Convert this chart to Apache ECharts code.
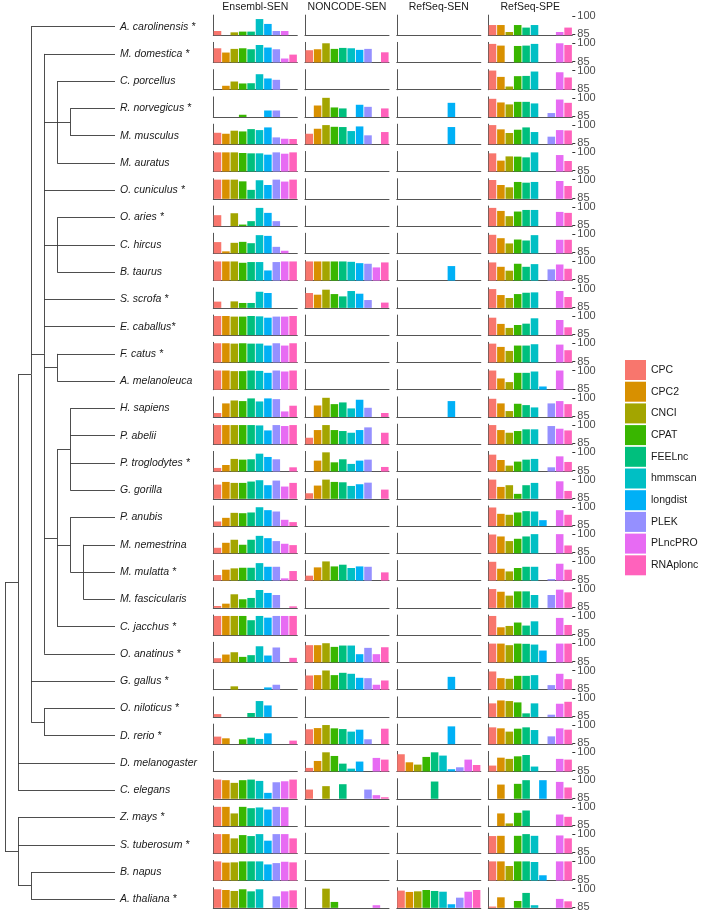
<!DOCTYPE html>
<html><head><meta charset="utf-8">
<script src="https://cdn.jsdelivr.net/npm/echarts@6/dist/echarts.min.js"></script>
<style>html,body{margin:0;padding:0;background:#fff}#c{width:702px;height:913px}</style>
</head><body><div id="c"></div>
<script>
const _ = null;
const tools = ['CPC','CPC2','CNCI','CPAT','FEELnc','hmmscan','longdist','PLEK','PLncPRO','RNAplonc'];
const toolColors = ['#F8766D','#D89000','#A3A500','#39B600','#00BF7D','#00BFC4','#00B0F6','#9590FF','#E76BF3','#FF62BC'];
const databases = ['Ensembl-SEN','NONCODE-SEN','RefSeq-SEN','RefSeq-SPE'];
const species = ['A. carolinensis *','M. domestica *','C. porcellus','R. norvegicus *','M. musculus','M. auratus',
  'O. cuniculus *','O. aries *','C. hircus','B. taurus','S. scrofa *','E. caballus*','F. catus *','A. melanoleuca',
  'H. sapiens','P. abelii','P. troglodytes *','G. gorilla','P. anubis','M. nemestrina','M. mulatta *','M. fascicularis',
  'C. jacchus *','O. anatinus *','G. gallus *','O. niloticus *','D. rerio *','D. melanogaster','C. elegans',
  'Z. mays *','S. tuberosum *','B. napus','A. thaliana *'];
const yTicks = [85, 100];

// tree topology (nested clades)
const tree = [
  [
    ['A. carolinensis *',
      ['M. domestica *',
        ['C. porcellus', ['R. norvegicus *','M. musculus'], 'M. auratus'],
        'O. cuniculus *',
        ['O. aries *','C. hircus','B. taurus'],
        'S. scrofa *','E. caballus*',
        ['F. catus *','A. melanoleuca'],
        [['H. sapiens','P. abelii','P. troglodytes *','G. gorilla'],
         ['P. anubis', ['M. nemestrina','M. mulatta *','M. fascicularis']],
         'C. jacchus *'],
        'O. anatinus *'],
      'G. gallus *',
      ['O. niloticus *','D. rerio *']],
    'D. melanogaster','C. elegans'],
  ['Z. mays *','S. tuberosum *',['B. napus','A. thaliana *']]
];

const ensemblSEN = [
  [87.7,_,86.6,87.2,87.2,97.5,93.5,87.7,87.7,_],
  [95.9,92.4,95.4,95.9,95.1,98.6,96.5,95.1,87.5,90.7],
  [_,87.5,91.0,89.4,89.6,97.0,93.5,92.4,_,_],
  [_,_,_,86.1,_,_,89.6,89.6,_,_],
  [93.7,92.9,95.4,94.8,96.7,95.9,98.1,89.9,88.8,88.6],
  [100,100,100,99.5,99.2,99.2,98.1,100,98.9,100],
  [100,100,100,98.6,91.6,99.5,95.6,100,98.4,100],
  [93.2,_,94.8,85.5,88.3,99.2,95.1,88.3,_,_],
  [93.5,85.9,92.9,93.7,92.6,99.2,98.6,89.6,86.4,_],
  [100,100,100,98.9,99.5,99.5,92.6,99.5,100,100],
  [89.4,_,89.6,88.3,88.3,97.5,96.5,_,_,_],
  [100,100,99.5,99.5,100,99.7,98.6,99.5,99.5,100],
  [100,100,99.7,100,99.7,99.7,98.1,100,98.1,100],
  [100,100,99.5,99.5,100,99.7,98.1,100,99.2,100],
  [87.5,95.4,97.8,97.3,99.5,97.0,99.5,98.9,88.8,93.5],
  [100,100,100,100,100,99.7,95.6,100,99.2,100],
  [87.2,89.6,94.6,94.0,94.3,98.9,96.2,94.3,_,87.7],
  [95.9,98.1,97.3,97.3,98.4,99.5,95.4,99.2,94.3,97.3],
  [88.0,91.0,95.1,94.8,95.4,99.7,97.3,96.2,89.4,87.5],
  [88.8,92.9,95.4,91.3,95.4,98.6,96.7,94.3,92.1,91.0],
  [88.8,93.2,94.3,94.8,94.8,98.6,95.6,95.6,86.1,92.1],
  [85.8,87.7,95.4,91.3,92.4,98.9,96.5,94.8,_,85.5],
  [100,100,100,100,96.5,100,98.6,100,100,100],
  [87.7,90.7,92.6,88.8,90.2,97.5,89.9,96.5,_,88.0],
  [_,_,87.0,_,_,_,86.1,88.3,_,_],
  [86.6,_,_,_,87.5,97.3,93.7,_,_,_],
  [90.5,89.1,_,88.3,89.6,88.6,93.2,_,_,87.2],
  [_,_,_,_,_,_,_,_,_,_],
  [100,99.5,97.3,99.5,100,98.9,89.1,97.8,98.6,100],
  [100,100,94.6,100,98.9,99.5,97.8,100,99.7,_],
  [100,100,96.5,99.2,98.4,100,94.6,100,100,96.5],
  [100,99.0,99.2,100,100,100,97.5,98.6,99.7,99.2],
  [99.5,98.9,98.1,99.5,97.8,99.5,_,93.7,97.8,98.6]
];
const noncodeSEN = [
  [_,_,_,_,_,_,_,_,_,_],
  [94.3,95.1,100,95.4,96.2,95.9,94.6,95.4,_,92.6],
  [_,_,_,_,_,_,_,_,_,_],
  [_,93.7,100,92.1,91.3,_,94.3,92.6,_,91.3],
  [92.9,97.0,100,98.6,98.4,95.1,98.9,91.6,_,94.3],
  [_,_,_,_,_,_,_,_,_,_],
  [_,_,_,_,_,_,_,_,_,_],
  [_,_,_,_,_,_,_,_,_,_],
  [_,_,_,_,_,_,_,_,_,_],
  [100,100,100,100,100,99.7,98.6,98.1,95.1,99.2],
  [96.5,95.1,99.2,95.6,93.7,98.1,95.9,90.7,_,88.6],
  [_,_,_,_,_,_,_,_,_,_],
  [_,_,_,_,_,_,_,_,_,_],
  [_,_,_,_,_,_,_,_,_,_],
  [_,93.7,100,94.8,96.2,91.3,98.4,91.8,_,87.5],
  [89.6,95.9,100,95.9,95.1,93.7,95.9,98.1,_,93.7],
  [_,93.2,100,91.8,94.3,90.5,93.2,94.0,_,88.0],
  [88.8,95.1,100,98.1,97.8,94.8,96.2,97.5,_,91.8],
  [_,_,_,_,_,_,_,_,_,_],
  [_,_,_,_,_,_,_,_,_,_],
  [88.3,95.1,100,95.9,97.3,94.6,95.9,95.6,_,91.0],
  [_,_,_,_,_,_,_,_,_,_],
  [_,_,_,_,_,_,_,_,_,_],
  [98.4,98.4,100,97.0,98.1,98.1,91.0,96.2,91.0,96.7],
  [95.9,96.2,100,96.2,98.1,97.3,94.0,93.7,88.3,91.8],
  [_,_,_,_,_,_,_,_,_,_],
  [96.5,97.5,100,97.3,96.7,94.6,96.2,88.3,_,97.0],
  [87.2,92.9,100,97.0,90.7,86.6,92.4,_,95.4,94.0],
  [91.8,_,94.6,_,96.2,_,_,91.8,87.2,85.5],
  [_,_,_,_,_,_,_,_,_,_],
  [_,_,_,_,_,_,_,_,_,_],
  [_,_,_,_,_,_,_,_,_,_],
  [_,_,100,89.1,_,_,_,_,86.4,_]
];
const refseqSEN = [
  [_,_,_,_,_,_,_,_,_,_],
  [_,_,_,_,_,_,_,_,_,_],
  [_,_,_,_,_,_,_,_,_,_],
  [_,_,_,_,_,_,95.9,_,_,_],
  [_,_,_,_,_,_,98.4,_,_,_],
  [_,_,_,_,_,_,_,_,_,_],
  [_,_,_,_,_,_,_,_,_,_],
  [_,_,_,_,_,_,_,_,_,_],
  [_,_,_,_,_,_,_,_,_,_],
  [_,_,_,_,_,_,96.2,_,_,_],
  [_,_,_,_,_,_,_,_,_,_],
  [_,_,_,_,_,_,_,_,_,_],
  [_,_,_,_,_,_,_,_,_,_],
  [_,_,_,_,_,_,_,_,_,_],
  [_,_,_,_,_,_,97.3,_,_,_],
  [_,_,_,_,_,_,_,_,_,_],
  [_,_,_,_,_,_,_,_,_,_],
  [_,_,_,_,_,_,_,_,_,_],
  [_,_,_,_,_,_,_,_,_,_],
  [_,_,_,_,_,_,_,_,_,_],
  [_,_,_,_,_,_,_,_,_,_],
  [_,_,_,_,_,_,_,_,_,_],
  [_,_,_,_,_,_,_,_,_,_],
  [_,_,_,_,_,_,_,_,_,_],
  [_,_,_,_,_,_,94.8,_,_,_],
  [_,_,_,_,_,_,_,_,_,_],
  [_,_,_,_,_,_,98.9,_,_,_],
  [98.4,91.8,89.9,96.2,100,97.3,86.1,87.7,94.0,89.6],
  [_,_,_,_,98.4,_,_,_,_,_],
  [_,_,_,_,_,_,_,_,_,_],
  [_,_,_,_,_,_,_,_,_,_],
  [_,_,_,_,_,_,_,_,_,_],
  [98.4,97.3,97.8,98.9,98.1,97.5,87.2,92.6,97.5,98.9]
];
const refseqSPE = [
  [92.6,92.6,86.9,92.6,90.5,92.6,_,_,86.9,90.5],
  [99.5,98.1,_,97.8,98.1,99.5,_,_,100,98.6],
  [100,94.8,86.9,95.4,95.6,99.2,_,_,98.6,94.3],
  [99.2,96.2,94.6,96.7,96.7,95.4,_,87.5,98.6,95.9],
  [100,96.5,93.5,96.2,98.1,94.3,_,90.5,95.9,95.6],
  [99.2,93.2,96.7,96.5,95.9,100,_,_,97.8,92.9],
  [99.7,95.6,93.7,98.1,97.5,98.1,_,_,98.9,94.8],
  [99.2,96.7,92.4,96.2,97.5,97.5,_,_,95.9,95.1],
  [99.5,96.7,92.4,95.6,94.8,99.2,_,_,95.4,95.4],
  [99.2,95.6,92.4,98.1,95.6,97.8,_,93.5,97.5,94.0],
  [99.7,94.8,92.4,95.6,96.7,97.0,_,_,98.1,93.2],
  [98.6,93.5,90.2,92.6,93.7,98.1,_,_,96.7,90.7],
  [99.7,97.0,93.7,98.1,98.1,99.2,_,_,98.9,94.3],
  [100,93.5,90.5,98.1,98.1,99.2,86.9,_,100,_],
  [99.2,95.4,89.1,95.1,94.0,92.1,_,95.4,97.3,94.8],
  [100,95.9,93.7,95.1,96.5,96.5,_,99.2,97.0,95.6],
  [98.1,93.7,89.1,92.4,94.0,94.6,_,87.7,96.7,92.1],
  [100,94.0,95.4,88.3,95.4,97.3,_,_,98.6,90.7],
  [99.5,94.3,93.5,95.4,96.5,96.2,89.1,_,97.3,93.5],
  [99.7,98.1,94.3,96.2,98.1,100,_,_,100,90.7],
  [99.7,94.0,91.8,94.6,95.6,95.6,_,85.5,98.1,93.2],
  [99.7,97.5,94.3,97.8,97.8,94.8,_,94.8,99.2,97.0],
  [100,90.7,91.8,94.6,92.1,95.6,_,_,98.4,92.6],
  [99.7,99.7,98.4,99.7,99.5,98.9,94.0,_,99.7,99.7],
  [99.2,93.7,93.2,95.6,95.6,96.2,_,88.0,97.3,92.9],
  [95.4,97.8,97.3,96.2,87.2,95.4,_,86.1,95.1,96.7],
  [98.1,97.3,94.6,97.0,98.1,95.9,_,90.7,97.3,96.2],
  [89.1,95.6,94.6,96.7,97.8,88.3,_,_,94.6,94.0],
  [_,95.9,_,96.5,99.5,_,99.5,_,98.1,93.5],
  [_,94.6,86.4,95.1,97.0,_,_,_,93.7,91.8],
  [98.4,98.6,_,98.6,100,98.6,_,_,98.9,96.5],
  [100,100,96.2,100,100,99.5,88.6,_,100,100],
  [85.3,92.9,_,89.9,96.5,86.4,_,_,91.6,89.6]
];
const dbValues = [ensemblSEN, noncodeSEN, refseqSEN, refseqSPE];

// ---- layout constants ----
const FONT = 'Liberation Sans, Arial, sans-serif';
const ROW_TOP = 15.1, ROW_PITCH = 27.27, PANEL_H = 20.1;
const COL_LEFT = [213.3, 305, 396.8, 488.3], PANEL_W = 84;
const Y_MIN = 84.25, Y_MAX = 100.75;
const TIP = 8.43;
const AXIS_COLOR = '#555';

// tree segments
const segs = [];
function layoutNode(node, depth) {
  if (typeof node === 'string') return {x: TIP, y: species.indexOf(node)};
  const kids = node.map(ch => layoutNode(ch, depth + 1));
  const ys = kids.map(k => k.y);
  const y0 = Math.min(...ys), y1 = Math.max(...ys);
  segs.push({coords: [[depth, y0], [depth, y1]]});
  kids.forEach(k => segs.push({coords: [[depth, k.y], [k.x, k.y]]}));
  return {x: depth, y: (y0 + y1) / 2};
}
layoutNode(tree, 0);

const grids = [{left: 5, width: 110, top: ROW_TOP + (PANEL_H/2) - 0.5*ROW_PITCH + 1.5, height: species.length * ROW_PITCH, outerBoundsMode: 'none'}];
const xAxes = [{type: 'value', gridIndex: 0, min: 0, max: TIP, show: false}];
const yAxes = [
  {type: 'value', gridIndex: 0, min: -0.5, max: species.length - 0.5, inverse: true, show: false},
  {type: 'category', gridIndex: 0, data: species, inverse: true, position: 'right',
   axisLine: {show: false}, axisTick: {show: false}, splitLine: {show: false},
   axisLabel: {show: true, interval: 0, margin: 5, fontSize: 10.5, fontStyle: 'italic', color: '#1a1a1a', fontFamily: FONT}}
];
const series = [{
  type: 'lines', coordinateSystem: 'cartesian2d', xAxisIndex: 0, yAxisIndex: 0,
  data: segs, silent: true, lineStyle: {color: '#3a3a3a', width: 0.9, opacity: 1}, symbol: 'none'
}];

for (let r = 0; r < species.length; r++) {
  for (let c = 0; c < databases.length; c++) {
    const gi = grids.length;
    grids.push({left: COL_LEFT[c], top: ROW_TOP + r * ROW_PITCH, width: PANEL_W, height: PANEL_H, outerBoundsMode: 'none'});
    const xi = xAxes.length;
    xAxes.push({type: 'category', gridIndex: gi, data: tools,
      axisLine: {show: true, onZero: false, lineStyle: {color: AXIS_COLOR, width: 1}},
      axisTick: {show: false}, axisLabel: {show: false}, splitLine: {show: false}});
    const yi = yAxes.length;
    yAxes.push({type: 'value', gridIndex: gi, min: Y_MIN, max: Y_MAX, position: 'left',
      axisLine: {show: true, onZero: false, lineStyle: {color: AXIS_COLOR, width: 1}},
      axisTick: {show: false}, axisLabel: {show: false}, splitLine: {show: false}});
    if (c === databases.length - 1) {
      yAxes.push({type: 'value', gridIndex: gi, min: Y_MIN, max: Y_MAX, position: 'right',
        axisLine: {show: false}, splitLine: {show: false},
        axisTick: {show: true, length: 3, customValues: yTicks, lineStyle: {color: '#333', width: 1}},
        axisLabel: {show: true, customValues: yTicks, margin: 5, fontSize: 11, color: '#4d4d4d', fontFamily: FONT}});
    }
    const vals = dbValues[c][r];
    series.push({
      type: 'bar', xAxisIndex: xi, yAxisIndex: yi, barCategoryGap: '10%', silent: true,
      data: vals.map((v, i) => v === null ? '-' : {value: v, itemStyle: {color: toolColors[i]}})
    });
  }
}
// legend entries
tools.forEach((t, i) => series.push({type: 'scatter', name: t, xAxisIndex: 0, yAxisIndex: 0, data: [], itemStyle: {color: toolColors[i], opacity: 1}}));

const graphics = databases.map((d, c) => ({
  type: 'text', x: COL_LEFT[c] + PANEL_W / 2, y: 7.5, silent: true,
  style: {text: d, align: 'center', verticalAlign: 'middle', fontSize: 10.5, fill: '#1a1a1a', fontFamily: FONT}
}));

const chart = echarts.init(document.getElementById('c'), null, {renderer: 'canvas'});
chart.setOption({
  animation: false,
  backgroundColor: '#fff',
  grid: grids, xAxis: xAxes, yAxis: yAxes, series: series,
  graphic: graphics,
  legend: {
    data: tools, orient: 'vertical', left: 620, top: 355, icon: 'rect',
    itemWidth: 21, itemHeight: 20, itemGap: 1.7, selectedMode: false,
    itemStyle: {opacity: 1},
    textStyle: {fontSize: 10.5, color: '#1a1a1a', fontFamily: FONT}
  }
});
</script>
</body></html>
